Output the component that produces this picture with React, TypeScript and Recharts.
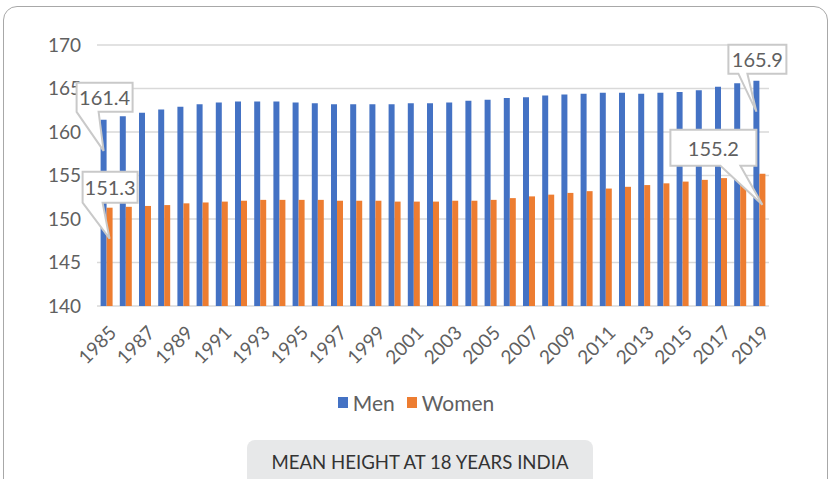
import React from 'react'
import { BarChart, Bar, XAxis, YAxis, CartesianGrid, Legend, LabelList } from 'recharts'

// Mean height at age 18, India (cm)
const years = [
  '1985', '1986', '1987', '1988', '1989', '1990', '1991', '1992', '1993', '1994',
  '1995', '1996', '1997', '1998', '1999', '2000', '2001', '2002', '2003', '2004',
  '2005', '2006', '2007', '2008', '2009', '2010', '2011', '2012', '2013', '2014',
  '2015', '2016', '2017', '2018', '2019',
]

const menHeights = [
  161.4, 161.8, 162.2, 162.6, 162.9, 163.2, 163.4, 163.5, 163.5, 163.5,
  163.4, 163.3, 163.2, 163.2, 163.2, 163.2, 163.3, 163.3, 163.4, 163.6,
  163.7, 163.9, 164.0, 164.2, 164.3, 164.4, 164.5, 164.5, 164.4, 164.5,
  164.6, 164.8, 165.2, 165.6, 165.9,
]

const womenHeights = [
  151.3, 151.4, 151.5, 151.6, 151.8, 151.9, 152.0, 152.1, 152.2, 152.2,
  152.2, 152.2, 152.1, 152.1, 152.1, 152.0, 152.0, 152.0, 152.1, 152.1,
  152.2, 152.4, 152.6, 152.8, 153.0, 153.2, 153.5, 153.7, 153.9, 154.1,
  154.3, 154.5, 154.7, 154.9, 155.2,
]

const yTicks = [140, 145, 150, 155, 160, 165, 170]

const data = years.map((year, i) => ({
  year,
  men: menHeights[i],
  women: womenHeights[i],
}))

const FONT = 'Lato, "Open Sans", sans-serif'
const TEXT = '#606060'
const BLUE = '#4472C4'
const ORANGE = '#ED7D31'

const series = [
  { key: 'men', name: 'Men', color: BLUE },
  { key: 'women', name: 'Women', color: ORANGE },
]

// Callout box placement relative to the bar centre / pointer tip
interface CalloutShape {
  left: number   // box left edge, from bar centre
  width: number
  rise: number   // box top, above the pointer tip
  height: number
  baseL: number  // pointer base, measured from box left
  baseR: number
}

const menCallouts: Record<string, CalloutShape> = {
  first: { left: -27, width: 56, rise: 68, height: 29, baseL: 0, baseR: 22 },
  last: { left: -28, width: 58, rise: 67, height: 29, baseL: 10, baseR: 19 },
}

const womenCallouts: Record<string, CalloutShape> = {
  first: { left: -27, width: 55, rise: 67, height: 31, baseL: 0, baseR: 20 },
  last: { left: -92, width: 86, rise: 75, height: 36, baseL: 50, baseR: 70 },
}

const makeCallout = (shapes: Record<string, CalloutShape>) => (props: any) => {
  const vb = props.viewBox ?? props
  const x = Number(vb.x ?? props.x)
  const y = Number(vb.y ?? props.y)
  const w = Number(vb.width ?? props.width)
  const { index, value } = props
  const shape = index === 0 ? shapes.first : index === years.length - 1 ? shapes.last : null
  if (!shape) return null

  const cx = x + w / 2
  const tipY = y + 31
  const left = cx + shape.left
  const right = left + shape.width
  const top = tipY - shape.rise
  const bottom = top + shape.height
  const path = `M${left},${top} H${right} V${bottom} H${left + shape.baseR} L${cx},${tipY} L${left + shape.baseL},${bottom} H${left} Z`

  return (
    <g>
      <path d={path} fill="#fff" stroke="#c9c9c9" strokeWidth={2} strokeLinejoin="miter" />
      <text
        x={(left + right) / 2}
        y={(top + bottom) / 2}
        textAnchor="middle"
        dominantBaseline="central"
        fontFamily={FONT}
        fontSize={20}
        fill={TEXT}
      >
        {Number(value).toFixed(1)}
      </text>
    </g>
  )
}

const YearTick = ({ x, y, payload }: any) => (
  <g transform={`translate(${x + 11},${y + 20}) rotate(-45)`}>
    <text x={0} y={0} textAnchor="end" fontFamily={FONT} fontSize={19} fill={TEXT}>
      {payload.value}
    </text>
  </g>
)

const LegendRow = () => (
  <div
    style={{
      display: 'flex',
      justifyContent: 'center',
      alignItems: 'center',
      height: 52,
      fontFamily: FONT,
      fontSize: 21,
      color: TEXT,
    }}
  >
    {series.map((s) => (
      <div key={s.key} style={{ display: 'flex', alignItems: 'center', margin: '0 6px' }}>
        <span style={{ width: 10, height: 11, background: s.color, marginRight: 5 }} />
        <span>{s.name}</span>
      </div>
    ))}
  </div>
)

export default function App() {
  return (
    <div
      style={{
        position: 'fixed',
        left: 0,
        top: 0,
        width: 832,
        height: 479,
        background: '#fff',
        overflow: 'hidden',
      }}
    >
      {/* card border */}
      <div
        style={{
          position: 'absolute',
          left: 3,
          top: 6,
          width: 825,
          height: 500,
          border: '1.5px solid #a8a8a8',
          borderRadius: 14,
          boxSizing: 'border-box',
        }}
      />

      <div style={{ position: 'absolute', left: 0, top: 0 }}>
        <BarChart
          width={832}
          height={479}
          data={data}
          margin={{ top: 45, right: 63, left: 0, bottom: 51 }}
          barCategoryGap="18.75%"
          barGap={0}
        >
          <CartesianGrid horizontal vertical={false} stroke="#d9d9d9" strokeWidth={1.5} />
          <XAxis
            dataKey="year"
            interval={1}
            height={70}
            tickLine={false}
            axisLine={false}
            tick={<YearTick />}
          />
          <YAxis
            type="number"
            domain={[140, 170]}
            ticks={yTicks}
            width={97}
            tickLine={false}
            axisLine={false}
            tickMargin={10}
            tick={{ fontFamily: FONT, fontSize: 19, fill: TEXT }}
          />
          <Legend
            verticalAlign="bottom"
            height={52}
            width={832}
            wrapperStyle={{ left: 0 }}
            content={() => <LegendRow />}
          />
          <Bar dataKey="men" name="Men" fill={BLUE} isAnimationActive={false}>
            <LabelList dataKey="men" content={makeCallout(menCallouts)} />
          </Bar>
          <Bar dataKey="women" name="Women" fill={ORANGE} isAnimationActive={false}>
            <LabelList dataKey="women" content={makeCallout(womenCallouts)} />
          </Bar>
        </BarChart>
      </div>

      {/* chart title tab */}
      <svg
        width={346}
        height={50}
        style={{ position: 'absolute', left: 247, top: 440 }}
      >
        <rect x={0} y={0} width={346} height={60} rx={8} fill="#e7e8e9" />
        <text
          x={173}
          y={29}
          textAnchor="middle"
          fontFamily={FONT}
          fontSize={19}
          fill="#333"
          textLength={297}
          lengthAdjust="spacingAndGlyphs"
        >
          MEAN HEIGHT AT 18 YEARS INDIA
        </text>
      </svg>
    </div>
  )
}
